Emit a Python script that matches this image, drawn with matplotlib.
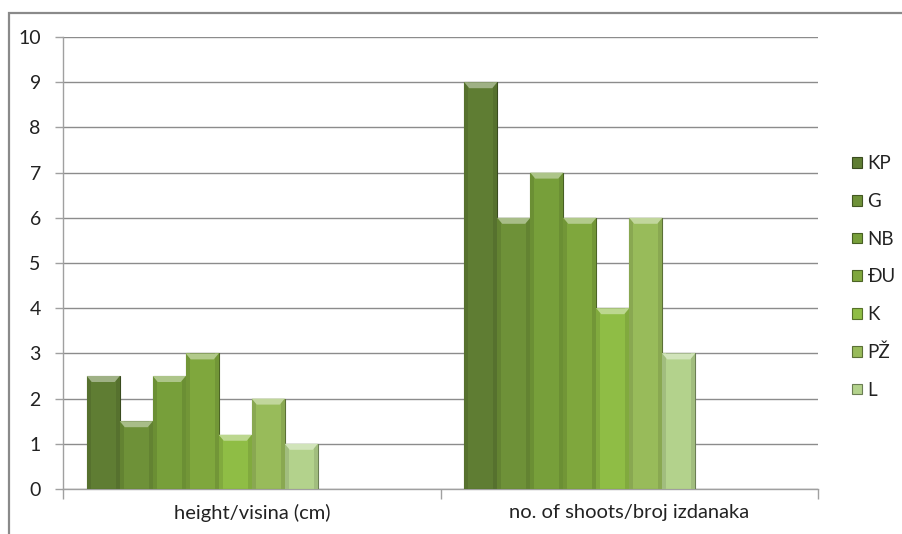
import matplotlib.pyplot as plt
from matplotlib.patches import Polygon, Rectangle
import numpy as np

categories = ["height/visina (cm)", "no. of shoots/broj izdanaka"]
series = ["KP", "G", "NB", "ĐU", "K", "PŽ", "L"]
values = {
    "KP": [2.5, 9],
    "G":  [1.5, 6],
    "NB": [2.5, 7],
    "ĐU": [3, 6],
    "K":  [1.2, 4],
    "PŽ": [2, 6],
    "L":  [1, 3],
}
colors = ["#5f7d33", "#6e9138", "#779f3a", "#7fa73d", "#8fbd45", "#98bb5a", "#b3d28c"]

plt.rcParams['font.family'] = ['Lato', 'DejaVu Sans']

fig = plt.figure(figsize=(9.02, 5.34), dpi=100)
ax = fig.add_axes([63/902, 1-489/534, (818-63)/902, (489-37)/534])

# outer chart frame
frame = Rectangle((9/902, -0.1), 1.2, 1-13/534+0.1, transform=fig.transFigure,
                  fill=False, edgecolor="#8a8a8a", linewidth=1.6, clip_on=False)
fig.add_artist(frame)

n_slots = 10
w = 33/377.5
offset = (1 - n_slots*w) / 2

def lighten(c, f):
    rgb = np.array(plt.matplotlib.colors.to_rgb(c))
    return tuple(rgb + (1 - rgb)*f)

def darken(c, f):
    rgb = np.array(plt.matplotlib.colors.to_rgb(c))
    return tuple(rgb*(1 - f))

px_x = 1/377.5
px_y = 10/452

for j, name in enumerate(series):
    xs = [c + offset + j*w for c in range(len(categories))]
    bars = ax.bar(xs, values[name], width=w, align='edge', color=colors[j],
                  edgecolor=darken(colors[j], 0.4), linewidth=0.8, label=name, zorder=3)
    for b in bars:
        x0, y0 = b.get_x(), b.get_y()
        bw, bh = b.get_width(), b.get_height()
        # darker side strips
        for sx in (x0, x0 + bw - 4*px_x):
            ax.add_patch(Rectangle((sx, y0), 4*px_x, bh, color=darken(colors[j], 0.1),
                                   linewidth=0, zorder=3.5))
        # top bevel
        top = y0 + bh
        bev = Polygon([(x0, top), (x0 + bw, top), (x0 + bw - 5*px_x, top - 6*px_y),
                       (x0 + 5*px_x, top - 6*px_y)], closed=True,
                      color=lighten(colors[j], 0.4), linewidth=0, zorder=4)
        ax.add_patch(bev)

ax.set_xlim(0, 2)
ax.set_ylim(0, 10)
ax.set_yticks(range(0, 11))
ax.yaxis.grid(True, color="#8c8c8c", linewidth=1.0, zorder=0)
ax.set_axisbelow(True)

ax.set_xticks([0, 1, 2])
ax.set_xticklabels([])
ax.set_xticks([0.5, 1.5], minor=True)
ax.set_xticklabels(categories, minor=True, fontsize=14.5, color="#222222")
ax.tick_params(axis='x', which='major', length=7, color="#a0a0a0", width=1)
ax.tick_params(axis='x', which='minor', length=0, pad=11)
ax.tick_params(axis='y', length=6, color="#a0a0a0", width=1, labelsize=14,
               labelcolor="#222222", pad=10)

for s in ("top", "right"):
    ax.spines[s].set_visible(False)
for s in ("left", "bottom"):
    ax.spines[s].set_color("#a0a0a0")
    ax.spines[s].set_linewidth(1)

leg = fig.legend(loc="center left", bbox_to_anchor=(843/902, 1-277/534), frameon=False,
                 fontsize=13.5, handlelength=0.5, handleheight=0.5, handletextpad=0.3,
                 labelspacing=1.1, borderpad=0)
for t in leg.get_texts():
    t.set_color("#222222")

fig.savefig("out.png", dpi=100)
